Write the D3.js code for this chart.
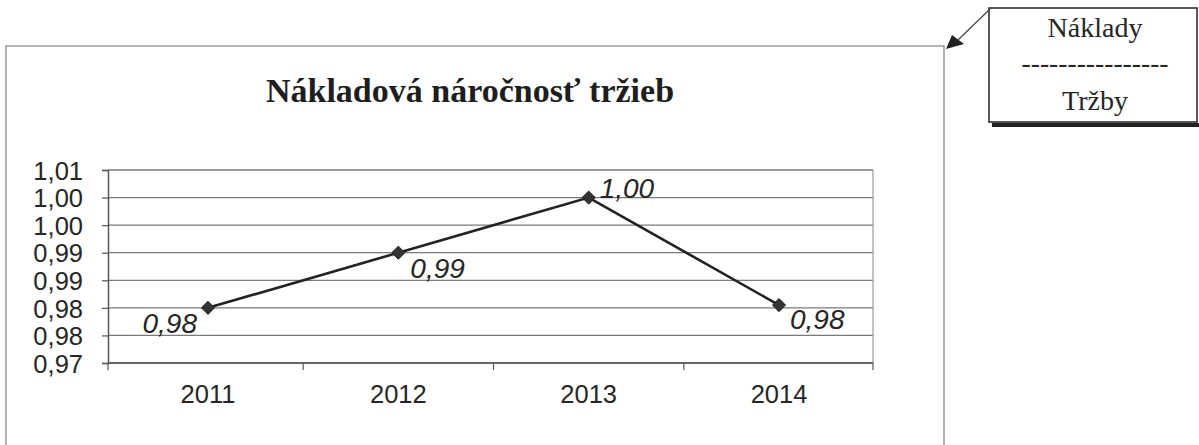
<!doctype html>
<html>
<head>
<meta charset="utf-8">
<script src="https://d3js.org/d3.v7.min.js"></script>
<style>
  body { margin: 0; background: #fff; }
  svg { display: block; }
  .tick-lbl { font: 25.5px "Liberation Sans", Arial, sans-serif; fill: #262626; }
  .val-lbl { font: italic 28px "Liberation Sans", Arial, sans-serif; fill: #262626; }
  .title { font: bold 34px "Liberation Serif", "Times New Roman", serif; fill: #1e1e1e; }
  .note { font: 28px "Liberation Serif", "Times New Roman", serif; fill: #262626; }
</style>
</head>
<body>
<svg id="chart" width="1199" height="445"></svg>
<script>
// data
var years = ["2011", "2012", "2013", "2014"];
var ratio = [0.980, 0.990, 1.000, 0.9805];
var ratioLabels = ["0,98", "0,99", "1,00", "0,98"];
var yTicks = [0.97, 0.975, 0.98, 0.985, 0.99, 0.995, 1.00, 1.005];
var yTickLabels = ["0,97", "0,98", "0,98", "0,99", "0,99", "1,00", "1,00", "1,01"];

// where each value label sits relative to its point
var labelPlace = [
  {dx: -11, dy: 25, anchor: "end"},
  {dx: 12, dy: 25, anchor: "start"},
  {dx: 11, dy: 0, anchor: "start"},
  {dx: 11, dy: 24, anchor: "start"}
];

var svg = d3.select("#chart");

var plot = {left: 108, right: 873, top: 170, bottom: 363};

var x = d3.scalePoint().domain(years).range([208, 779]);
var y = d3.scaleLinear().domain([0.97, 1.005]).range([plot.bottom, plot.top]);

// outer chart frame (runs off the bottom of the page)
svg.append("path")
  .attr("d", "M6,460 L6,46 L944,46 L944,460")
  .attr("fill", "none")
  .attr("stroke", "#9a9a9a")
  .attr("stroke-width", 1.5);

svg.append("text")
  .attr("class", "title")
  .attr("x", 470)
  .attr("y", 102)
  .attr("text-anchor", "middle")
  .text("Nákladová náročnosť tržieb");

// grid lines
svg.append("g").selectAll("line")
  .data(yTicks)
  .enter().append("line")
  .attr("x1", plot.left)
  .attr("x2", plot.right)
  .attr("y1", d => y(d))
  .attr("y2", d => y(d))
  .attr("stroke", "#7a7a7a")
  .attr("stroke-width", 1.3);

// right border of plot area
svg.append("line")
  .attr("x1", plot.right).attr("x2", plot.right)
  .attr("y1", plot.top).attr("y2", plot.bottom)
  .attr("stroke", "#9a9a9a").attr("stroke-width", 1.2);

// y axis
var yAxis = d3.axisLeft(y)
  .tickValues(yTicks)
  .tickSize(6)
  .tickFormat((d, i) => yTickLabels[i]);

var gy = svg.append("g")
  .attr("transform", "translate(" + plot.left + ",0)")
  .call(yAxis);
gy.attr("font-size", null).attr("font-family", null);
gy.select(".domain").attr("stroke", "#555").attr("stroke-width", 1.5);
gy.selectAll(".tick line").attr("stroke", "#555").attr("stroke-width", 1.2);
gy.selectAll(".tick text")
  .attr("class", "tick-lbl")
  .attr("x", -25)
  .attr("dy", "0.36em");

// x axis: baseline + tick marks between categories
var step = x.step();
var bounds = [plot.left].concat(years.slice(1).map(d => x(d) - step / 2)).concat([plot.right]);

svg.append("line")
  .attr("x1", plot.left).attr("x2", plot.right)
  .attr("y1", plot.bottom).attr("y2", plot.bottom)
  .attr("stroke", "#555").attr("stroke-width", 1.5);

svg.append("g").selectAll("line")
  .data(bounds)
  .enter().append("line")
  .attr("x1", d => d).attr("x2", d => d)
  .attr("y1", plot.bottom).attr("y2", plot.bottom + 7)
  .attr("stroke", "#555").attr("stroke-width", 1.2);

svg.append("g").selectAll("text")
  .data(years)
  .enter().append("text")
  .attr("class", "tick-lbl")
  .attr("x", d => x(d))
  .attr("y", 403)
  .attr("text-anchor", "middle")
  .text(d => d);

// line
var line = d3.line()
  .x((d, i) => x(years[i]))
  .y(d => y(d));

svg.append("path")
  .datum(ratio)
  .attr("d", line)
  .attr("fill", "none")
  .attr("stroke", "#222")
  .attr("stroke-width", 2.6);

// diamond markers
svg.append("g").selectAll("path")
  .data(ratio)
  .enter().append("path")
  .attr("d", d3.symbol().type(d3.symbolDiamond2).size(110))
  .attr("transform", (d, i) => "translate(" + x(years[i]) + "," + y(d) + ")")
  .attr("fill", "#333")
  .attr("stroke", "#222")
  .attr("stroke-width", 1);

// value labels
svg.append("g").selectAll("text")
  .data(ratio)
  .enter().append("text")
  .attr("class", "val-lbl")
  .attr("x", (d, i) => x(years[i]) + labelPlace[i].dx)
  .attr("y", (d, i) => y(d) + labelPlace[i].dy)
  .attr("text-anchor", (d, i) => labelPlace[i].anchor)
  .text((d, i) => ratioLabels[i]);

// callout box: Náklady / Tržby
svg.append("line")
  .attr("x1", 992).attr("y1", 125)
  .attr("x2", 1199).attr("y2", 125)
  .attr("stroke", "#222").attr("stroke-width", 4);

svg.append("rect")
  .attr("x", 989).attr("y", 8)
  .attr("width", 208).attr("height", 114)
  .attr("fill", "#fff")
  .attr("stroke", "#222")
  .attr("stroke-width", 1.5);

svg.append("text").attr("class", "note")
  .attr("x", 1095).attr("y", 37)
  .attr("text-anchor", "middle")
  .text("Náklady");

svg.append("text").attr("class", "note")
  .attr("x", 1095).attr("y", 72)
  .attr("text-anchor", "middle")
  .attr("textLength", 147)
  .attr("lengthAdjust", "spacingAndGlyphs")
  .text("----------------");

svg.append("text").attr("class", "note")
  .attr("x", 1095).attr("y", 110)
  .attr("text-anchor", "middle")
  .text("Tržby");

// pointer from the box to the chart
svg.append("line")
  .attr("x1", 990).attr("y1", 9)
  .attr("x2", 958).attr("y2", 40)
  .attr("stroke", "#444").attr("stroke-width", 1.2);

svg.append("path")
  .attr("d", "M946,49 L952,35 L964,44 Z")
  .attr("fill", "#222");
</script>
</body>
</html>
